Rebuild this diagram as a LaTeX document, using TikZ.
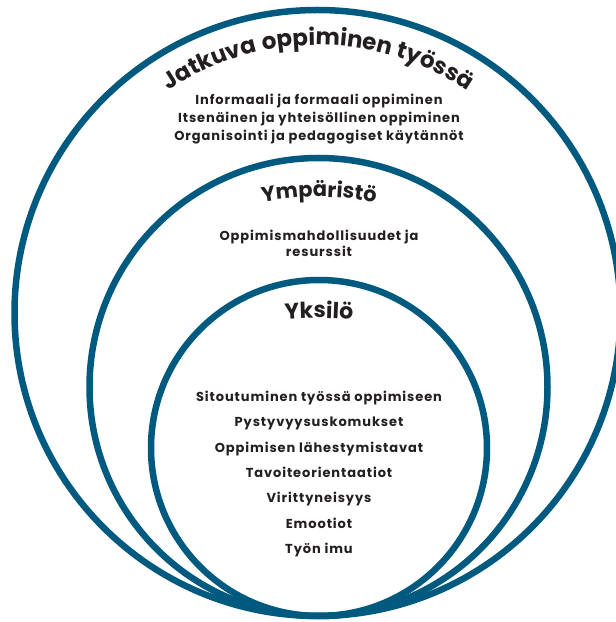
\documentclass[tikz,border=0pt]{standalone}
\usepackage{fontspec}
\setmainfont{Poppins}
\newfontfamily\headfont[LetterSpace=2]{Poppins}
\newfontfamily\bodyfont[LetterSpace=7]{Poppins}
\usetikzlibrary{decorations.text}
\definecolor{ring}{RGB}{0,90,127}
\definecolor{ink}{RGB}{35,31,32}
\begin{document}
\begin{tikzpicture}[x=1pt,y=1pt,
  ringline/.style={draw=ring, line width=6.5pt},
  bodytext/.style={font=\bodyfont\bfseries\fontsize{13}{#1}\selectfont, text=ink, align=center, inner sep=0pt},
  bodytext/.default=18,
]
\useasboundingbox (0,0) rectangle (616,622);
\begin{scope}
\clip (0,0) rectangle (616,622);
\draw[ringline] (317.5,309) circle[radius=303];
\draw[ringline] (318.5,235) circle[radius=229];
\draw[ringline] (319,174) circle[radius=168];
\end{scope}

\path[decorate, decoration={text along path, text align=center, text color=ink,
  text={|\headfont\bfseries\fontsize{23}{26}\selectfont|Jatkuva oppiminen työssä}}]
  ([shift={(130:268)}]318,309) arc[start angle=130, end angle=50, radius=268];
\path[decorate, decoration={text along path, text align=center, text color=ink,
  text={|\headfont\bfseries\fontsize{21}{24}\selectfont|Ympäristö}}]
  ([shift={(110:300)}]319,125) arc[start angle=110, end angle=70, radius=300];
\path[decorate, decoration={text along path, text align=center, text color=ink,
  text={|\headfont\bfseries\fontsize{22}{24}\selectfont|Yksilö}}]
  ([shift={(105:400)}]319,-96) arc[start angle=105, end angle=75, radius=400];

\node[bodytext=18] (outerlist) at (319,503) {Informaali ja formaali oppiminen\\Itsenäinen ja yhteisöllinen oppiminen\\Organisointi ja pedagogiset käytännöt};
\node[bodytext=16] (midlist) at (319,379) {Oppimismahdollisuudet ja\\resurssit};
\node[bodytext=25.3] (innerlist) at (319,148) {Sitoutuminen työssä oppimiseen\\Pystyvyysuskomukset\\Oppimisen lähestymistavat\\Tavoiteorientaatiot\\Virittyneisyys\\Emootiot\\Työn imu};
\end{tikzpicture}
\end{document}
